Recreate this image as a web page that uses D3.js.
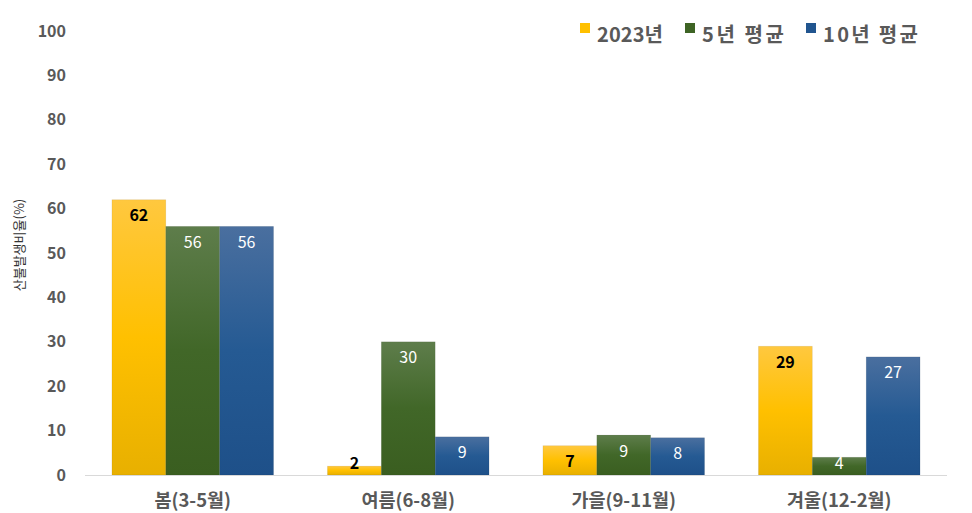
<!DOCTYPE html>
<html>
<head>
<meta charset="utf-8">
<script src="https://cdn.jsdelivr.net/npm/d3@7"></script>
<style>
  body { margin: 0; background: #fff; }
  text { font-family: "Noto Sans CJK KR", "Noto Sans", sans-serif; }
</style>
</head>
<body>
<div id="chart"></div>
<script>
//data (bar heights, labels are rounded)
const categories = ["봄(3-5월)", "여름(6-8월)", "가을(9-11월)", "겨울(12-2월)"];
const seriesNames = ["2023년", "5년 평균", "10년 평균"];
const values2023 = [62, 2, 6.6, 29];
const values5y = [56, 30, 9, 4];
const values10y = [56, 8.6, 8.4, 26.6];
const yTicks = [0, 10, 20, 30, 40, 50, 60, 70, 80, 90, 100];

//svg size
const width = 972;
const height = 513;
const margin = { top: 31, right: 25, bottom: 38, left: 85 };

//series styles: gradient top/mid/bottom, label style
const seriesStyle = [
  { stops: ["#FFC83F", "#FFC000", "#E8B000"], swatch: "#FFC000", label: "#000", weight: 700 },
  { stops: ["#5E7D4B", "#416728", "#3A5E20"], swatch: "#3E6425", label: "#fff", weight: 400 },
  { stops: ["#4A6F9F", "#255A93", "#1E5089"], swatch: "#21558F", label: "#fff", weight: 400 },
];

const seriesValues = [values2023, values5y, values10y];
const fmt = d3.format(".0f");

const svg = d3.select("#chart")
  .append("svg")
  .attr("width", width)
  .attr("height", height);

//gradients
const defs = svg.append("defs");
seriesStyle.forEach((s, i) => {
  const g = defs.append("linearGradient")
    .attr("id", "grad" + i)
    .attr("x1", 0).attr("y1", 0).attr("x2", 0).attr("y2", 1);
  g.append("stop").attr("offset", "0%").attr("stop-color", s.stops[0]);
  g.append("stop").attr("offset", "50%").attr("stop-color", s.stops[1]);
  g.append("stop").attr("offset", "100%").attr("stop-color", s.stops[2]);
});

const x0 = d3.scaleBand()
  .domain(categories)
  .range([margin.left, width - margin.right])
  .paddingInner(0.25)
  .paddingOuter(0.125);

const x1 = d3.scaleBand()
  .domain(d3.range(seriesNames.length))
  .range([0, x0.bandwidth()]);

const y = d3.scaleLinear()
  .domain([0, 100])
  .range([height - margin.bottom, margin.top]);

//y tick labels
svg.append("g")
  .selectAll("text")
  .data(yTicks)
  .join("text")
  .attr("x", 66)
  .attr("y", (d) => y(d))
  .attr("dy", "0.35em")
  .attr("text-anchor", "end")
  .attr("font-size", 16)
  .attr("font-weight", 700)
  .attr("fill", "#595959")
  .text((d) => d);

//y axis title
svg.append("text")
  .attr("transform", `translate(24,245) rotate(-90)`)
  .attr("text-anchor", "middle")
  .attr("font-size", 13)
  .attr("fill", "#333")
  .text("산불발생비율(%)");

//bars
const groups = svg.append("g")
  .selectAll("g")
  .data(categories)
  .join("g")
  .attr("transform", (d) => `translate(${x0(d)},0)`);

const cells = groups.selectAll("g.cell")
  .data((d, ci) => seriesValues.map((vals, si) => ({ si, v: vals[ci] })))
  .join("g")
  .attr("class", "cell");

cells.append("rect")
  .attr("x", (d) => x1(d.si))
  .attr("y", (d) => y(d.v))
  .attr("width", x1.bandwidth())
  .attr("height", (d) => y(0) - y(d.v))
  .attr("fill", (d) => `url(#grad${d.si})`)
  .attr("stroke", "rgba(0,0,0,0.08)")
  .attr("stroke-width", 0.8);

cells.append("text")
  .attr("x", (d) => x1(d.si) + x1.bandwidth() / 2)
  .attr("y", (d) => Math.min(y(d.v) + 16, y(0) - 12))
  .attr("dy", "0.35em")
  .attr("text-anchor", "middle")
  .attr("font-family", "'Open Sans', 'Noto Sans', sans-serif")
  .attr("font-size", 16)
  .attr("font-weight", (d) => seriesStyle[d.si].weight)
  .attr("fill", (d) => seriesStyle[d.si].label)
  .text((d) => fmt(d.v));

//baseline
svg.append("line")
  .attr("x1", margin.left)
  .attr("x2", width - margin.right)
  .attr("y1", y(0) + 0.5)
  .attr("y2", y(0) + 0.5)
  .attr("stroke", "#D9D9D9")
  .attr("stroke-width", 1);

//category labels
svg.append("g")
  .selectAll("text")
  .data(categories)
  .join("text")
  .attr("x", (d) => x0(d) + x0.bandwidth() / 2)
  .attr("y", 507)
  .attr("text-anchor", "middle")
  .attr("font-size", 18.5)
  .attr("font-weight", 700)
  .attr("fill", "#595959")
  .text((d) => d);

//legend
const legendX = [580, 685, 806];
const legendTextLen = [66, 82, 95];
const legend = svg.append("g")
  .selectAll("g")
  .data(seriesNames)
  .join("g")
  .attr("transform", (d, i) => `translate(${legendX[i]},23)`);

legend.append("rect")
  .attr("width", 10)
  .attr("height", 10)
  .attr("fill", (d, i) => seriesStyle[i].swatch);

legend.append("text")
  .attr("x", 17)
  .attr("y", 19)
  .attr("font-size", 20)
  .attr("font-weight", 700)
  .attr("textLength", (d, i) => legendTextLen[i])
  .attr("lengthAdjust", "spacing")
  .attr("fill", "#595959")
  .text((d) => d);
</script>
</body>
</html>
